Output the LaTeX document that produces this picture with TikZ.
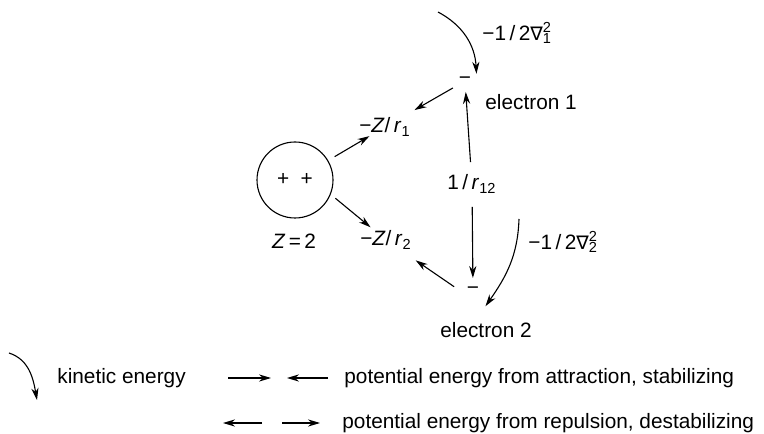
\documentclass[tikz,border=0pt]{standalone}
\usepackage{fontspec}
\setmainfont{Liberation Sans}
\newfontfamily\nablafont[Scale=0.9]{DejaVu Sans}
\usetikzlibrary{arrows.meta}

\newcommand{\lapl}[1]{−1\,/\,2{\nablafont ∇}\rlap{\textsuperscript{2}}\textsubscript{#1}}
\newcommand{\zover}[1]{−\textit{Z}/\,\textit{r}\textsubscript{#1}}

\begin{document}
\begin{tikzpicture}[
    x=0.5pt, y=0.5pt,
    >={Stealth[length=6pt,width=3.6pt]},
    every node/.style={font=\fontsize{10.4}{12}\selectfont, inner sep=0pt},
    link/.style={->, line width=0.55pt},
]
\useasboundingbox (0,0) rectangle (764,433);

% Nucli
\node[
    draw,
    circle,
    line width=0.55pt,
    minimum size=38pt
] (nuc) at (295,253) {+\hspace{0.55em}+};
\node (zval) at (294,192) {\textit{Z}\,=\,2};

% Termes
\node (zr1) at (385,306) {\zover{1}};
\node (zr2) at (386,193) {\zover{2}};
\node (r12) at (472,249) {1\,/\,\textit{r}\textsubscript{12}};

% Electrons
\node (e1) at (465,352) {−};
\node (e2) at (473,142) {−};
\node[anchor=west] (el1) at (485,331) {electron 1};
\node (el2) at (486,103) {electron 2};

% Energia cinetica
\node[anchor=west] (lap1) at (482,400) {\lapl{1}};
\node[anchor=west] (lap2) at (528,191) {\lapl{2}};
\coordinate (k1) at (438,421);
\coordinate (k2) at (519,214);

% Atraccio
\draw[link, shorten <=23pt, shorten >=9pt] (nuc.center) -- (zr1.center);
\draw[link, shorten <=3pt, shorten >=10pt] (nuc.-22.5) -- (zr2.center);
\draw[link, shorten <=7pt, shorten >=17pt] (e1.center) -- (zr1.center);
\draw[link, shorten <=7.5pt, shorten >=18pt] (e2.south west) -- (zr2.center);

% Repulsio
\draw[link, shorten <=11pt, shorten >=5.5pt] (r12.center) -- (e1.center);
\draw[link, shorten <=11.5pt, shorten >=6.5pt] (r12.center) -- (e2.center);

% Cinetica
\draw[link] (k1) to[out=-28, in=93] ([shift={(5,3)}]e1.north east);
\draw[link] (k2) to[out=-92, in=55] ([shift={(6,-11)}]e2.south east);

% Llegenda
\coordinate (c1) at (9,80);
\coordinate (c2) at (37,33);
\draw[link] (c1) to[out=-18, in=100] (c2);
\node[anchor=west] (kin) at (57,55) {kinetic energy};

\coordinate (p1) at (228,55);
\coordinate (p2) at (271,55);
\coordinate (p3) at (328,55);
\coordinate (p4) at (287,55);
\draw[link] (p1) -- (p2);
\draw[link] (p3) -- (p4);
\node[anchor=west] (attr) at (344,55) {potential energy from attraction, stabilizing};

\coordinate (q1) at (262,10);
\coordinate (q2) at (223,10);
\coordinate (q3) at (282,10);
\coordinate (q4) at (320,10);
\draw[link] (q1) -- (q2);
\draw[link] (q3) -- (q4);
\node[anchor=west] (rep) at (342,10) {potential energy from repulsion, destabilizing};

\end{tikzpicture}
\end{document}
